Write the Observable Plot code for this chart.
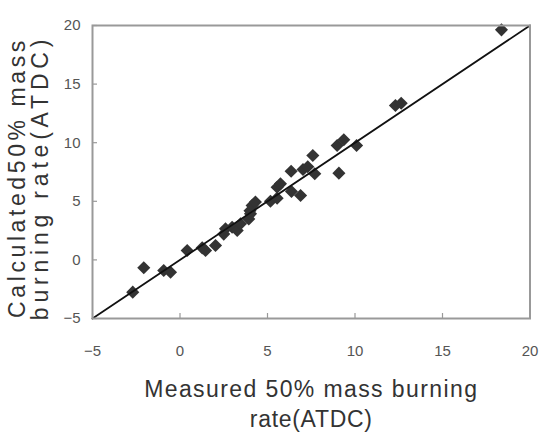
<!DOCTYPE html>
<html><head><meta charset="utf-8">
<script src="https://cdn.jsdelivr.net/npm/d3@7"></script>
<script src="https://cdn.jsdelivr.net/npm/@observablehq/plot@0.6"></script>
<style>
body{margin:0;background:#fff}
svg{display:block}
</style>
</head><body><div id="chart"></div>
<script>
const measured   = [-2.7, -2.07, -0.93, -0.54, 0.41, 1.27, 1.46, 2.03, 2.5, 2.6, 2.98, 3.27, 3.46, 3.93, 4.0, 4.03, 4.12, 4.31, 5.17, 5.55, 5.55, 5.74, 6.35, 6.37, 6.89, 7.03, 7.3, 7.7, 7.59, 8.98, 9.08, 9.36, 10.09, 12.31, 12.64, 18.37];
const calculated = [-2.75, -0.67, -0.9, -1.05, 0.8, 1.03, 0.8, 1.23, 2.2, 2.65, 2.79, 2.51, 3.08, 3.5, 4.2, 3.93, 4.64, 4.93, 5.01, 5.27, 6.2, 6.49, 7.57, 5.84, 5.49, 7.71, 7.95, 7.35, 8.91, 9.76, 7.4, 10.25, 9.76, 13.17, 13.37, 19.63];
const diagonal = [-5, 20];
const xTicks = [-5, 0, 5, 10, 15, 20];
const yTicks = [-5, 0, 5, 10, 15, 20];
const xTitleLines = ["Measured 50% mass burning", "rate(ATDC)"];
const yTitleLines = ["Calculated50% mass", "burning rate(ATDC)"];

const points = measured.map((m, i) => ({m, c: calculated[i]}));
const W = 548, H = 432, mL = 92, mR = 18.5, mT = 25, mB = 114;
const fw = W - mL - mR, fh = H - mT - mB;
const titleFont = 23;
const spacing = {xtitle1: 1.4, xtitle2: 0.7, ytitle1: 3.6, ytitle2: 4.8};

const chart = Plot.plot({
  width: W, height: H,
  marginLeft: mL, marginRight: mR, marginTop: mT, marginBottom: mB,
  style: {fontFamily: "Arial, 'Liberation Sans', sans-serif", background: "#fff"},
  x: {domain: [-5, 20]},
  y: {domain: [-5, 20]},
  marks: [
    Plot.axisX(xTicks, {tickSize: 0, tickPadding: 27, fontSize: 15, fill: "#555", label: null}),
    Plot.axisY(yTicks, {tickSize: 0, tickPadding: 12, fontSize: 15, fill: "#555", label: null}),
    Plot.tickX(xTicks, {x: d => d, insetTop: fh - 5, stroke: "#999", strokeWidth: 1.2}),
    Plot.tickY(yTicks, {y: d => d, insetRight: fw - 5, stroke: "#999", strokeWidth: 1.2}),
    Plot.dot(points, {x: "m", y: "c", symbol: "diamond2", r: 5.9, fill: "#333", stroke: null}),
    Plot.line(diagonal, {x: d => d, y: d => d, stroke: "#111", strokeWidth: 1.8}),
    Plot.frame({stroke: "#999", strokeWidth: 2}),
    Plot.text([xTitleLines[0]], {text: d => d, frameAnchor: "bottom", textAnchor: "middle", lineAnchor: "middle", dy: 71.6, fontSize: titleFont, fill: "#333", ariaLabel: () => "xtitle1"}),
    Plot.text([xTitleLines[1]], {text: d => d, frameAnchor: "bottom", textAnchor: "middle", lineAnchor: "middle", dy: 101.6, fontSize: titleFont, fill: "#333", ariaLabel: () => "xtitle2"}),
    Plot.text([yTitleLines[0]], {text: d => d, frameAnchor: "left", textAnchor: "middle", lineAnchor: "middle", rotate: -90, dx: -74.4, dy: 5.5, fontSize: titleFont, fill: "#333", ariaLabel: () => "ytitle1"}),
    Plot.text([yTitleLines[1]], {text: d => d, frameAnchor: "left", textAnchor: "middle", lineAnchor: "middle", rotate: -90, dx: -52, dy: 5.5, fontSize: titleFont, fill: "#333", ariaLabel: () => "ytitle2"})
  ]
});
for (const [key, ls] of Object.entries(spacing)) {
  d3.select(chart).selectAll(`text[aria-label="${key}"]`).style("letter-spacing", ls + "px");
}
document.getElementById("chart").appendChild(chart);
</script>
</body></html>
